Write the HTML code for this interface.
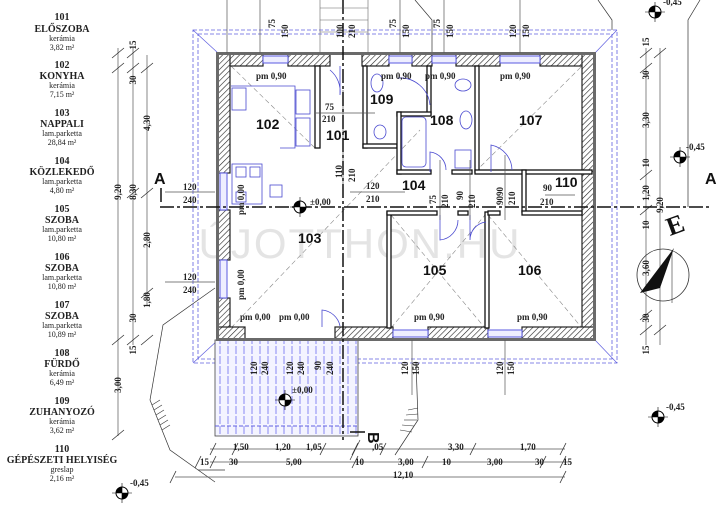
<!DOCTYPE html>
<html><head><meta charset="utf-8"><style>
body{margin:0;background:#fff}
svg{display:block;font-family:"Liberation Serif",serif}
.t{font-family:"Liberation Sans",sans-serif;font-weight:bold}
</style></head><body>
<svg width="720" height="510" viewBox="0 0 720 510" xmlns="http://www.w3.org/2000/svg">
<defs>
<pattern id="h" width="4" height="4" patternUnits="userSpaceOnUse" patternTransform="rotate(45)"><rect width="4" height="4" fill="#fff"/><line x1="0" y1="0" x2="0" y2="4" stroke="#222" stroke-width="1.2"/></pattern>
<pattern id="tr" width="8" height="10" patternUnits="userSpaceOnUse"><line x1="4" y1="0" x2="4" y2="10" stroke="#6c6cf0" stroke-width="0.8" stroke-dasharray="4,2"/></pattern>
<g id="el"><circle r="6" fill="#fff" stroke="#000"/><path d="M0 0 V-6 A6 6 0 0 0 -6 0Z M0 0 V6 A6 6 0 0 0 6 0Z" fill="#000"/><line x1="-10" y1="0" x2="10" y2="0" stroke="#000" stroke-width="0.6"/><line x1="0" y1="-10" x2="0" y2="10" stroke="#000" stroke-width="0.6"/></g>
</defs>
<!-- legend -->
<g font-size="9" text-anchor="middle" fill="#222">
<g font-weight="bold" font-size="10">
<text x="62" y="20">101</text><text x="62" y="32">ELŐSZOBA</text>
<text x="62" y="68">102</text><text x="62" y="79">KONYHA</text>
<text x="62" y="116">103</text><text x="62" y="127">NAPPALI</text>
<text x="62" y="164">104</text><text x="62" y="175">KÖZLEKEDŐ</text>
<text x="62" y="212">105</text><text x="62" y="223">SZOBA</text>
<text x="62" y="260">106</text><text x="62" y="271">SZOBA</text>
<text x="62" y="308">107</text><text x="62" y="319">SZOBA</text>
<text x="62" y="356">108</text><text x="62" y="367">FÜRDŐ</text>
<text x="62" y="404">109</text><text x="62" y="415">ZUHANYOZÓ</text>
<text x="62" y="452">110</text><text x="62" y="463">GÉPÉSZETI HELYISÉG</text>
</g>
<g font-size="8">
<text x="62" y="41">kerámia</text><text x="62" y="50">3,82 m²</text>
<text x="62" y="88">kerámia</text><text x="62" y="97">7,15 m²</text>
<text x="62" y="136">lam.parketta</text><text x="62" y="145">28,84 m²</text>
<text x="62" y="184">lam.parketta</text><text x="62" y="193">4,80 m²</text>
<text x="62" y="232">lam.parketta</text><text x="62" y="241">10,80 m²</text>
<text x="62" y="280">lam.parketta</text><text x="62" y="289">10,80 m²</text>
<text x="62" y="328">lam.parketta</text><text x="62" y="337">10,89 m²</text>
<text x="62" y="376">kerámia</text><text x="62" y="385">6,49 m²</text>
<text x="62" y="424">kerámia</text><text x="62" y="433">3,62 m²</text>
<text x="62" y="472">greslap</text><text x="62" y="481">2,16 m²</text>
</g></g>

<!-- terrain outlines -->
<g stroke="#333" stroke-width="0.7" fill="none">
<polyline points="215,288 163,325 150,400 170,450 215,482"/>
<polyline points="198,470 225,470"/>
<polyline points="415,0 432,20 432,60"/>
<polyline points="598,0 612,20 612,30"/>
<polyline points="700,0 688,20 688,207"/>
<polyline points="416,362 418,420 395,455"/>
<line x1="360" y1="440" x2="350" y2="460"/>
</g>
<g stroke="#333" stroke-width="0.6">
<line x1="152" y1="405" x2="160" y2="400"/><line x1="154" y1="410" x2="162" y2="405"/><line x1="156" y1="415" x2="164" y2="410"/><line x1="158" y1="420" x2="166" y2="415"/><line x1="160" y1="425" x2="168" y2="420"/><line x1="162" y1="430" x2="170" y2="425"/>
<line x1="408" y1="410" x2="418" y2="408"/><line x1="406" y1="415" x2="418" y2="414"/><line x1="404" y1="420" x2="417" y2="420"/><line x1="402" y1="425" x2="414" y2="426"/><line x1="400" y1="430" x2="412" y2="432"/>
</g>

<!-- eave outline -->
<g stroke="#6060e0" stroke-width="0.8" fill="none" stroke-dasharray="4,2">
<rect x="193" y="30" width="424" height="333"/>
<rect x="198" y="34" width="414" height="325"/>
</g>
<g stroke="#6060e0" stroke-width="0.7">
<line x1="193" y1="30" x2="218" y2="53"/><line x1="617" y1="30" x2="595" y2="53"/>
<line x1="193" y1="363" x2="218" y2="340"/><line x1="617" y1="363" x2="595" y2="340"/>
</g>
<!-- terrace -->
<rect x="215" y="340" width="143" height="96" fill="#f4f4ff" stroke="#444" stroke-width="0.8"/>
<rect x="215" y="341" width="143" height="94" fill="url(#tr)"/>
<line x1="215" y1="426" x2="358" y2="426" stroke="#6060e0" stroke-dasharray="4,2"/>

<!-- watermark -->
<text x="360" y="258" text-anchor="middle" font-family="Liberation Sans,sans-serif" font-size="42" fill="#e4e4e4" letter-spacing="2">ÚJOTTHON.HU</text>

<!-- room diagonals -->
<g stroke="#888" stroke-width="0.6" stroke-dasharray="5,3" fill="none">
<line x1="231" y1="66" x2="315" y2="148"/><line x1="231" y1="328" x2="420" y2="130"/>
<line x1="475" y1="172" x2="582" y2="66"/><line x1="391" y1="328" x2="485" y2="215"/>
<line x1="488" y1="215" x2="582" y2="328"/><line x1="391" y1="215" x2="485" y2="328"/>
</g>

<!-- outer walls -->
<g fill="url(#h)" stroke="#222" stroke-width="1.2">
<rect x="217" y="53" width="46" height="13"/><rect x="288" y="53" width="42" height="13"/>
<rect x="362" y="53" width="27" height="13"/><rect x="412" y="53" width="20" height="13"/>
<rect x="456" y="53" width="44" height="13"/><rect x="540" y="53" width="55" height="13"/>
<rect x="217" y="53" width="13" height="120"/><rect x="217" y="210" width="13" height="50"/>
<rect x="217" y="298" width="13" height="42"/>
<rect x="582" y="53" width="13" height="287"/>
<rect x="217" y="327" width="28" height="13"/><rect x="335" y="327" width="58" height="13"/>
<rect x="428" y="327" width="60" height="13"/><rect x="522" y="327" width="73" height="13"/>
</g>
<g fill="#6a6a6a"><rect x="216" y="52" width="380" height="3"/><rect x="216" y="52" width="3" height="289"/><rect x="593" y="52" width="3" height="289"/><rect x="216" y="338" width="380" height="3"/></g>
<!-- windows -->
<g stroke="#5a5ae0" stroke-width="1" fill="#eef">
<rect x="263" y="56" width="25" height="7"/><rect x="389" y="56" width="23" height="7"/>
<rect x="432" y="56" width="24" height="7"/><rect x="500" y="56" width="40" height="7"/>
<rect x="220" y="173" width="7" height="37"/><rect x="220" y="260" width="7" height="38"/>
<rect x="393" y="330" width="35" height="7"/><rect x="488" y="330" width="34" height="7"/>
</g>
<!-- inner walls -->
<g fill="#fff" stroke="#111" stroke-width="1.3">
<rect x="315" y="66" width="5" height="82"/><rect x="363" y="66" width="4" height="82"/>
<rect x="363" y="144" width="34" height="4"/><rect x="427" y="66" width="4" height="48"/>
<rect x="397" y="112" width="34" height="4"/><rect x="397" y="112" width="4" height="62"/>
<rect x="475" y="66" width="4" height="106"/>
<rect x="397" y="170" width="34" height="4"/><rect x="452" y="170" width="20" height="4"/><rect x="475" y="170" width="117" height="4"/>
<rect x="522" y="170" width="4" height="42"/>
<rect x="387" y="212" width="4" height="116"/><rect x="485" y="212" width="4" height="116"/>
<rect x="387" y="211" width="50" height="4"/><rect x="458" y="211" width="10" height="4"/><rect x="488" y="211" width="12" height="4"/><rect x="522" y="211" width="60" height="4"/>
</g>
<!-- fixtures -->
<g stroke="#4a4ad0" stroke-width="0.8" fill="none">
<path d="M231 86 H295 V148 H280"/><rect x="232" y="88" width="14" height="22"/>
<rect x="296" y="90" width="14" height="24"/><rect x="296" y="118" width="14" height="28"/>
<rect x="232" y="164" width="30" height="40"/><rect x="236" y="167" width="10" height="10"/><rect x="250" y="167" width="10" height="10"/>
<rect x="270" y="185" width="12" height="12"/><rect x="236" y="192" width="10" height="10"/>
<ellipse cx="377" cy="83" rx="6" ry="9"/><ellipse cx="380" cy="132" rx="6" ry="7"/>
<rect x="402" y="117" width="24" height="50" rx="4"/><ellipse cx="463" cy="85" rx="8" ry="6"/>
<ellipse cx="466" cy="120" rx="6" ry="9"/><rect x="455" y="150" width="16" height="18"/>
<path d="M430 105 A30 30 0 0 0 398 78"/><path d="M340 66 V95 A28 28 0 0 0 330 70"/>
<path d="M430 172 V152 A18 18 0 0 1 446 170"/><path d="M491 172 V145 A26 26 0 0 1 512 170"/>
<path d="M440 215 V240 A20 20 0 0 0 458 220"/><path d="M470 215 V240 A18 18 0 0 1 486 222"/>
<path d="M322 327 V310 A20 20 0 0 1 340 326"/>
</g>

<!-- dimension lines -->
<g stroke="#555" stroke-width="0.7" fill="none">
<line x1="118" y1="48" x2="118" y2="340"/><line x1="133" y1="48" x2="133" y2="345"/><line x1="147" y1="55" x2="147" y2="305"/>
<line x1="118" y1="340" x2="118" y2="436"/>
<line x1="646" y1="48" x2="646" y2="345"/><line x1="660" y1="48" x2="660" y2="345"/>
<line x1="210" y1="449" x2="565" y2="449"/><line x1="210" y1="462" x2="570" y2="462"/><line x1="175" y1="477" x2="565" y2="477"/>
<line x1="227" y1="0" x2="227" y2="53"/><line x1="260" y1="0" x2="260" y2="53"/><line x1="400" y1="0" x2="400" y2="53"/><line x1="444" y1="0" x2="444" y2="53"/><line x1="520" y1="0" x2="520" y2="53"/>
<line x1="343" y1="90" x2="343" y2="195"/><line x1="316" y1="113" x2="375" y2="113"/>
<line x1="350" y1="192" x2="405" y2="192"/><line x1="545" y1="195" x2="575" y2="195"/>
<line x1="440" y1="160" x2="440" y2="220"/><line x1="470" y1="160" x2="470" y2="220"/><line x1="505" y1="155" x2="505" y2="220"/>
<line x1="412" y1="340" x2="412" y2="395"/><line x1="505" y1="340" x2="505" y2="395"/>
<line x1="165" y1="192" x2="215" y2="192"/><line x1="165" y1="282" x2="215" y2="282"/>
</g>
<g stroke="#333" stroke-width="0.8">
<path d="M112 58 l12 -10 M127 58 l12 -10 M112 73 l12 -10 M127 73 l12 -10 M141 73 l12 -10 M127 198 l12 -10 M141 198 l12 -10 M141 298 l12 -10 M112 345 l12 -10 M127 345 l12 -10 M141 345 l12 -10 M112 440 l12 -10"/>
<path d="M640 58 l12 -10 M654 58 l12 -10 M640 73 l12 -10 M640 180 l12 -10 M640 215 l12 -10 M640 320 l12 -10 M640 335 l12 -10 M654 335 l12 -10"/>
<path d="M210 455 l6 -12 M232 455 l6 -12 M320 455 l6 -12 M352 455 l6 -12 M380 455 l6 -12 M470 455 l6 -12 M560 455 l6 -12 M195 468 l6 -12 M210 468 l6 -12 M352 468 l6 -12 M422 468 l6 -12 M540 468 l6 -12 M560 468 l6 -12 M170 483 l6 -12 M560 483 l6 -12"/>
</g>
<g font-size="9" font-weight="bold" fill="#222">
<g text-anchor="middle">
<text transform="translate(136,45) rotate(-90)">15</text>
<text transform="translate(136,80) rotate(-90)">30</text>
<text transform="translate(150,123) rotate(-90)">4,30</text>
<text transform="translate(121,192) rotate(-90)">9,20</text>
<text transform="translate(136,192) rotate(-90)">8,30</text>
<text transform="translate(150,240) rotate(-90)">2,80</text>
<text transform="translate(150,300) rotate(-90)">1,80</text>
<text transform="translate(136,318) rotate(-90)">30</text>
<text transform="translate(136,350) rotate(-90)">15</text>
<text transform="translate(121,385) rotate(-90)">3,00</text>
<text transform="translate(649,42) rotate(-90)">15</text>
<text transform="translate(649,75) rotate(-90)">30</text>
<text transform="translate(649,120) rotate(-90)">3,30</text>
<text transform="translate(649,163) rotate(-90)">10</text>
<text transform="translate(649,193) rotate(-90)">1,20</text>
<text transform="translate(663,205) rotate(-90)">9,20</text>
<text transform="translate(649,225) rotate(-90)">10</text>
<text transform="translate(649,268) rotate(-90)">3,60</text>
<text transform="translate(649,318) rotate(-90)">30</text>
<text transform="translate(649,350) rotate(-90)">15</text>
</g>
<g>
<text transform="translate(275,28) rotate(-90)">75</text><text transform="translate(288,38) rotate(-90)">150</text>
<text transform="translate(343,38) rotate(-90)">100</text><text transform="translate(355,38) rotate(-90)">210</text>
<text transform="translate(396,28) rotate(-90)">75</text><text transform="translate(409,38) rotate(-90)">150</text>
<text transform="translate(440,28) rotate(-90)">75</text><text transform="translate(453,38) rotate(-90)">150</text>
<text transform="translate(516,38) rotate(-90)">120</text><text transform="translate(529,38) rotate(-90)">150</text>
<text transform="translate(342,178) rotate(-90)">110</text><text transform="translate(355,182) rotate(-90)">210</text>
<text transform="translate(436,204) rotate(-90)">75</text><text transform="translate(448,208) rotate(-90)">210</text>
<text transform="translate(463,200) rotate(-90)">90</text><text transform="translate(475,208) rotate(-90)">210</text>
<text transform="translate(503,205) rotate(-90)">9090</text><text transform="translate(515,205) rotate(-90)">210</text>
<text transform="translate(257,375) rotate(-90)">120</text><text transform="translate(268,375) rotate(-90)">240</text>
<text transform="translate(293,375) rotate(-90)">120</text><text transform="translate(304,375) rotate(-90)">240</text>
<text transform="translate(321,370) rotate(-90)">90</text><text transform="translate(333,375) rotate(-90)">240</text>
<text transform="translate(408,375) rotate(-90)">120</text><text transform="translate(419,375) rotate(-90)">150</text>
<text transform="translate(503,375) rotate(-90)">120</text><text transform="translate(514,375) rotate(-90)">150</text>
</g>
<text x="325" y="110">75</text><text x="322" y="122">210</text>
<text x="366" y="189">120</text><text x="366" y="202">210</text>
<text x="543" y="191">90</text><text x="540" y="205">210</text>
<text x="183" y="190">120</text><text x="183" y="203">240</text>
<text x="183" y="280">120</text><text x="183" y="293">240</text>
<text x="310" y="205">±0,00</text><text x="292" y="393">±0,00</text>
<text x="233" y="450">1,50</text><text x="275" y="450">1,20</text><text x="306" y="450">1,05</text><text x="372" y="450">,05</text>
<text x="448" y="450">3,30</text><text x="520" y="450">1,70</text>
<text x="200" y="465">15</text><text x="229" y="465">30</text><text x="286" y="465">5,00</text><text x="355" y="465">10</text>
<text x="398" y="465">3,00</text><text x="442" y="465">10</text><text x="487" y="465">3,00</text><text x="535" y="465">30</text><text x="563" y="465">15</text>
<text x="393" y="478">12,10</text>
<text x="663" y="5">-0,45</text><text x="686" y="150">-0,45</text><text x="666" y="410">-0,45</text><text x="130" y="486">-0,45</text>
</g>

<!-- section lines -->
<g stroke="#111" stroke-width="1.5" stroke-dasharray="14,3,3,3">
<line x1="160" y1="207" x2="712" y2="207"/>
<line x1="343" y1="0" x2="343" y2="440"/>
</g>
<g stroke="#666" stroke-width="0.6">
<line x1="320" y1="0" x2="320" y2="53"/><line x1="368" y1="0" x2="368" y2="53"/>
<line x1="320" y1="8" x2="368" y2="8"/><line x1="320" y1="20" x2="368" y2="20"/><line x1="320" y1="32" x2="368" y2="32"/>
</g>
<g class="t" font-size="16" fill="#111">
<text x="154" y="184">A</text><text x="705" y="184">A</text>
<line x1="161" y1="188" x2="161" y2="202" stroke="#111" stroke-width="1.5"/>
<text transform="translate(368,432) rotate(90)">B</text>
<line x1="350" y1="432" x2="365" y2="432" stroke="#111" stroke-width="1.5"/>
<text transform="translate(670,236) rotate(-20)" font-size="26" font-family="Liberation Serif,serif">E</text>
</g>
<!-- compass -->
<circle cx="663" cy="275" r="26" fill="none" stroke="#333" stroke-width="0.8"/>
<line x1="672" y1="252" x2="672" y2="303" stroke="#333" stroke-width="0.6"/>
<path d="M674 248 L640 293 L660 288 Z" fill="#111"/>
<!-- elevation markers -->
<use href="#el" x="655" y="12"/><use href="#el" x="680" y="157"/><use href="#el" x="658" y="417"/><use href="#el" x="122" y="493"/>
<use href="#el" x="300" y="207"/><use href="#el" x="285" y="400"/>

<!-- text labels -->
<g class="t" font-size="14" fill="#111">
<text x="256" y="129">102</text><text x="326" y="140">101</text><text x="370" y="104">109</text>
<text x="430" y="125">108</text><text x="519" y="125">107</text><text x="402" y="190">104</text>
<text x="555" y="187">110</text><text x="298" y="243">103</text><text x="423" y="275">105</text>
<text x="518" y="275">106</text>
</g>
<g font-size="9" font-weight="bold" fill="#222">
<text x="256" y="79">pm 0,90</text><text x="381" y="79">pm 0,90</text><text x="425" y="79">pm 0,90</text>
<text x="500" y="79">pm 0,90</text><text x="240" y="320">pm 0,00</text><text x="279" y="320">pm 0,00</text>
<text x="414" y="320">pm 0,90</text><text x="517" y="320">pm 0,90</text>
<text transform="translate(244,215) rotate(-90)">pm 0,00</text>
<text transform="translate(244,300) rotate(-90)">pm 0,00</text>
</g>
</svg>
</body></html>
